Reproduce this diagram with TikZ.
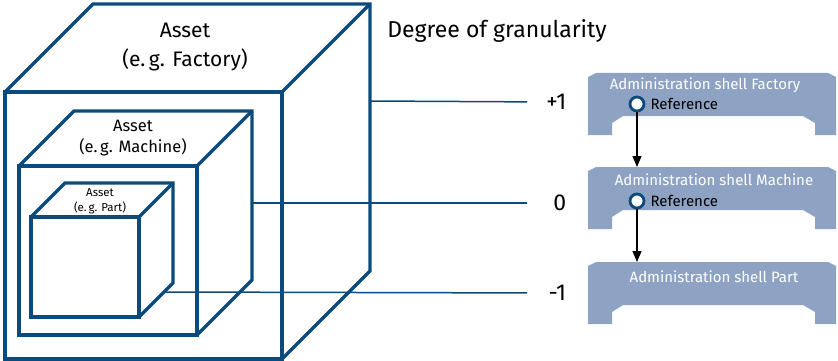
\documentclass[tikz,border=0pt]{standalone}
\usepackage{fontspec}
\setmainfont{Fira Sans}
\usepackage{tikz}
\usetikzlibrary{arrows.meta,positioning}

\definecolor{assetblue}{RGB}{12,74,124}
\definecolor{shellblue}{RGB}{142,163,195}

\begin{document}
\begin{tikzpicture}[
  x=1pt, y=-1pt,
  cube/.style={draw=assetblue, line width=3.2pt, line join=miter},
  level/.style={draw=assetblue, line width=1.5pt},
  lvl/.style={anchor=west, text width=34pt, align=right, inner xsep=5pt, font=\fontsize{23}{27}\selectfont},
  cubetext/.style={align=center},
  shelltitle/.style={text=white, font=\fontsize{15}{18}\selectfont},
  refdot/.style={circle, draw=assetblue, line width=2.8pt, fill=white, minimum size=14pt, inner sep=0pt},
  reftext/.style={font=\fontsize{15}{18}\selectfont, inner sep=1pt},
  arrow/.style={-{Triangle[width=9pt,length=11pt]}, line width=1.2pt},
  adminshell/.pic={
    \fill[shellblue] (0,4) -- (8,0) -- (240,0) -- (248,4) -- (248,62) -- (227,62) -- (227,50)
      -- (215,43) -- (35,43) -- (24,50) -- (24,62) -- (0,62) -- cycle;
  }
]
\useasboundingbox (0,0) rectangle (838,361);

% Asset cubes
\draw[cube] (5,92) rectangle (282,359);
\draw[cube] (5,92) -- ++(88,-88) -- ++(277,0) -- ++(0,267) -- ++(-88,88);
\draw[cube] (282,92) -- ++(88,-88);

\draw[cube] (19,166) rectangle (197,335);
\draw[cube] (19,166) -- ++(55,-55) -- ++(178,0) -- ++(0,169) -- ++(-55,55);
\draw[cube] (197,166) -- ++(55,-55);

\draw[cube] (31,217) rectangle (139,317);
\draw[cube] (31,217) -- ++(34,-34) -- ++(108,0) -- ++(0,100) -- ++(-34,34);
\draw[cube] (139,217) -- ++(34,-34);

\node[cubetext, font=\fontsize{21}{29}\selectfont] (factory) at (185,47) {Asset\\(e.\,g. Factory)};
\node[cubetext, font=\fontsize{16.5}{21}\selectfont] (machine) at (133,138) {Asset\\(e.\,g. Machine)};
\node[cubetext, font=\fontsize{11.5}{15}\selectfont] (part) at (100,201) {Asset\\(e.\,g. Part)};

% Degree of granularity
\node[font=\fontsize{23}{27}\selectfont] (degree) at (497,31) {Degree of granularity};

\coordinate (facedge) at (370,101);
\coordinate (machedge) at (252,203);
\coordinate (partedge) at (165,292);
\node[lvl] (plus) at (527,102) {+1};
\node[lvl] (zero) at (527,203) {0};
\node[lvl] (minus) at (527,293) {-1};
\draw[level] (facedge) -- (plus);
\draw[level] (machedge) -- (zero);
\draw[level] (partedge) -- (minus);

% Administration shells
\pic at (588,73) {adminshell};
\pic at (588,167) {adminshell};
\pic at (588,262) {adminshell};

\node[shelltitle] (facshell) at (705,85) {Administration shell Factory};
\node[shelltitle] (machshell) at (714,180) {Administration shell Machine};
\node[shelltitle] (partshell) at (714,277) {Administration shell Part};

\node[refdot] (facref) at (637,104) {};
\node[reftext, right=4pt of facref] (facreftext) {Reference};
\node[refdot] (machref) at (637,201) {};
\node[reftext, right=4pt of machref] (machreftext) {Reference};

\coordinate (machtop) at (637,167);
\coordinate (parttop) at (637,262);
\draw[arrow] (facref) -- (machtop);
\draw[arrow] (machref) -- (parttop);

\end{tikzpicture}
\end{document}
